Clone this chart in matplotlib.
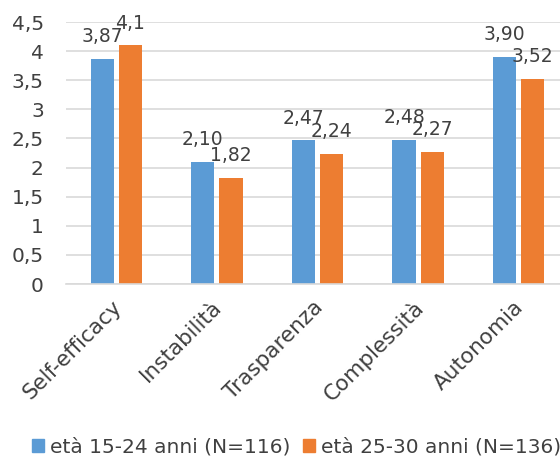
import matplotlib
matplotlib.use("Agg")
import matplotlib.pyplot as plt
import matplotlib.transforms as mtransforms
import numpy as np
from matplotlib.patches import Patch

categories = ["Self-efficacy", "Instabilità", "Trasparenza", "Complessità", "Autonomia"]
giovani = [3.87, 2.10, 2.47, 2.48, 3.90]
adulti = [4.1, 1.82, 2.24, 2.27, 3.52]
giovani_lbl = ["3,87", "2,10", "2,47", "2,48", "3,90"]
adulti_lbl = ["4,1", "1,82", "2,24", "2,27", "3,52"]
series_names = ["età 15-24 anni (N=116)", "età 25-30 anni (N=136)"]
yticks = [0, 0.5, 1, 1.5, 2, 2.5, 3, 3.5, 4, 4.5]
ytick_lbl = ["0", "0,5", "1", "1,5", "2", "2,5", "3", "3,5", "4", "4,5"]

blue = "#5B9BD5"
orange = "#ED7D31"
txt = "#404040"

fig = plt.figure(figsize=(5.6, 4.65), dpi=100)
ax = fig.add_axes([66/560, 1 - 284/465, (569 - 66)/560, (284 - 22)/465])

x = np.arange(len(categories))
w = 0.23
off = 0.14
b1 = ax.bar(x - off, giovani, w, color=blue)
b2 = ax.bar(x + off, adulti, w, color=orange)

for bars, labels in [(b1, giovani_lbl), (b2, adulti_lbl)]:
    for bar, lab in zip(bars, labels):
        ax.annotate(lab, (bar.get_x() + bar.get_width()/2, bar.get_height()),
                    xytext=(0, 12), textcoords="offset points",
                    ha="center", va="baseline", fontsize=13.5, color=txt)

ax.set_xlim(-0.5, len(categories) - 0.5)
ax.set_ylim(0, 4.5)
ax.set_yticks(yticks)
ax.set_yticklabels(ytick_lbl)
ax.set_xticks(x)
ax.set_xticklabels(categories, rotation=45, ha="right", rotation_mode="anchor")
ax.tick_params(axis="both", length=0, labelcolor=txt)
ax.tick_params(axis="y", pad=16, labelsize=14.5)
ax.tick_params(axis="x", pad=9, labelsize=15.5)
shift = mtransforms.ScaledTranslation(-5/100, 0, fig.dpi_scale_trans)
for lab in ax.get_xticklabels():
    lab.set_transform(lab.get_transform() + shift)
ax.yaxis.grid(True, color="#D9D9D9", linewidth=1.2)
ax.set_axisbelow(True)
for s in ["top", "right", "left"]:
    ax.spines[s].set_visible(False)
ax.spines["bottom"].set_color("#D9D9D9")
ax.spines["bottom"].set_linewidth(1.2)

handles = [Patch(color=blue), Patch(color=orange)]
fig.legend(handles, series_names, loc="center left",
           bbox_to_anchor=(32/560, 1 - 447/465), ncol=2, frameon=False,
           fontsize=14.5, labelcolor=txt, handlelength=0.6, handleheight=0.6,
           handletextpad=0.3, columnspacing=0.6, borderaxespad=0, borderpad=0)

fig.savefig("out.png", dpi=100)
